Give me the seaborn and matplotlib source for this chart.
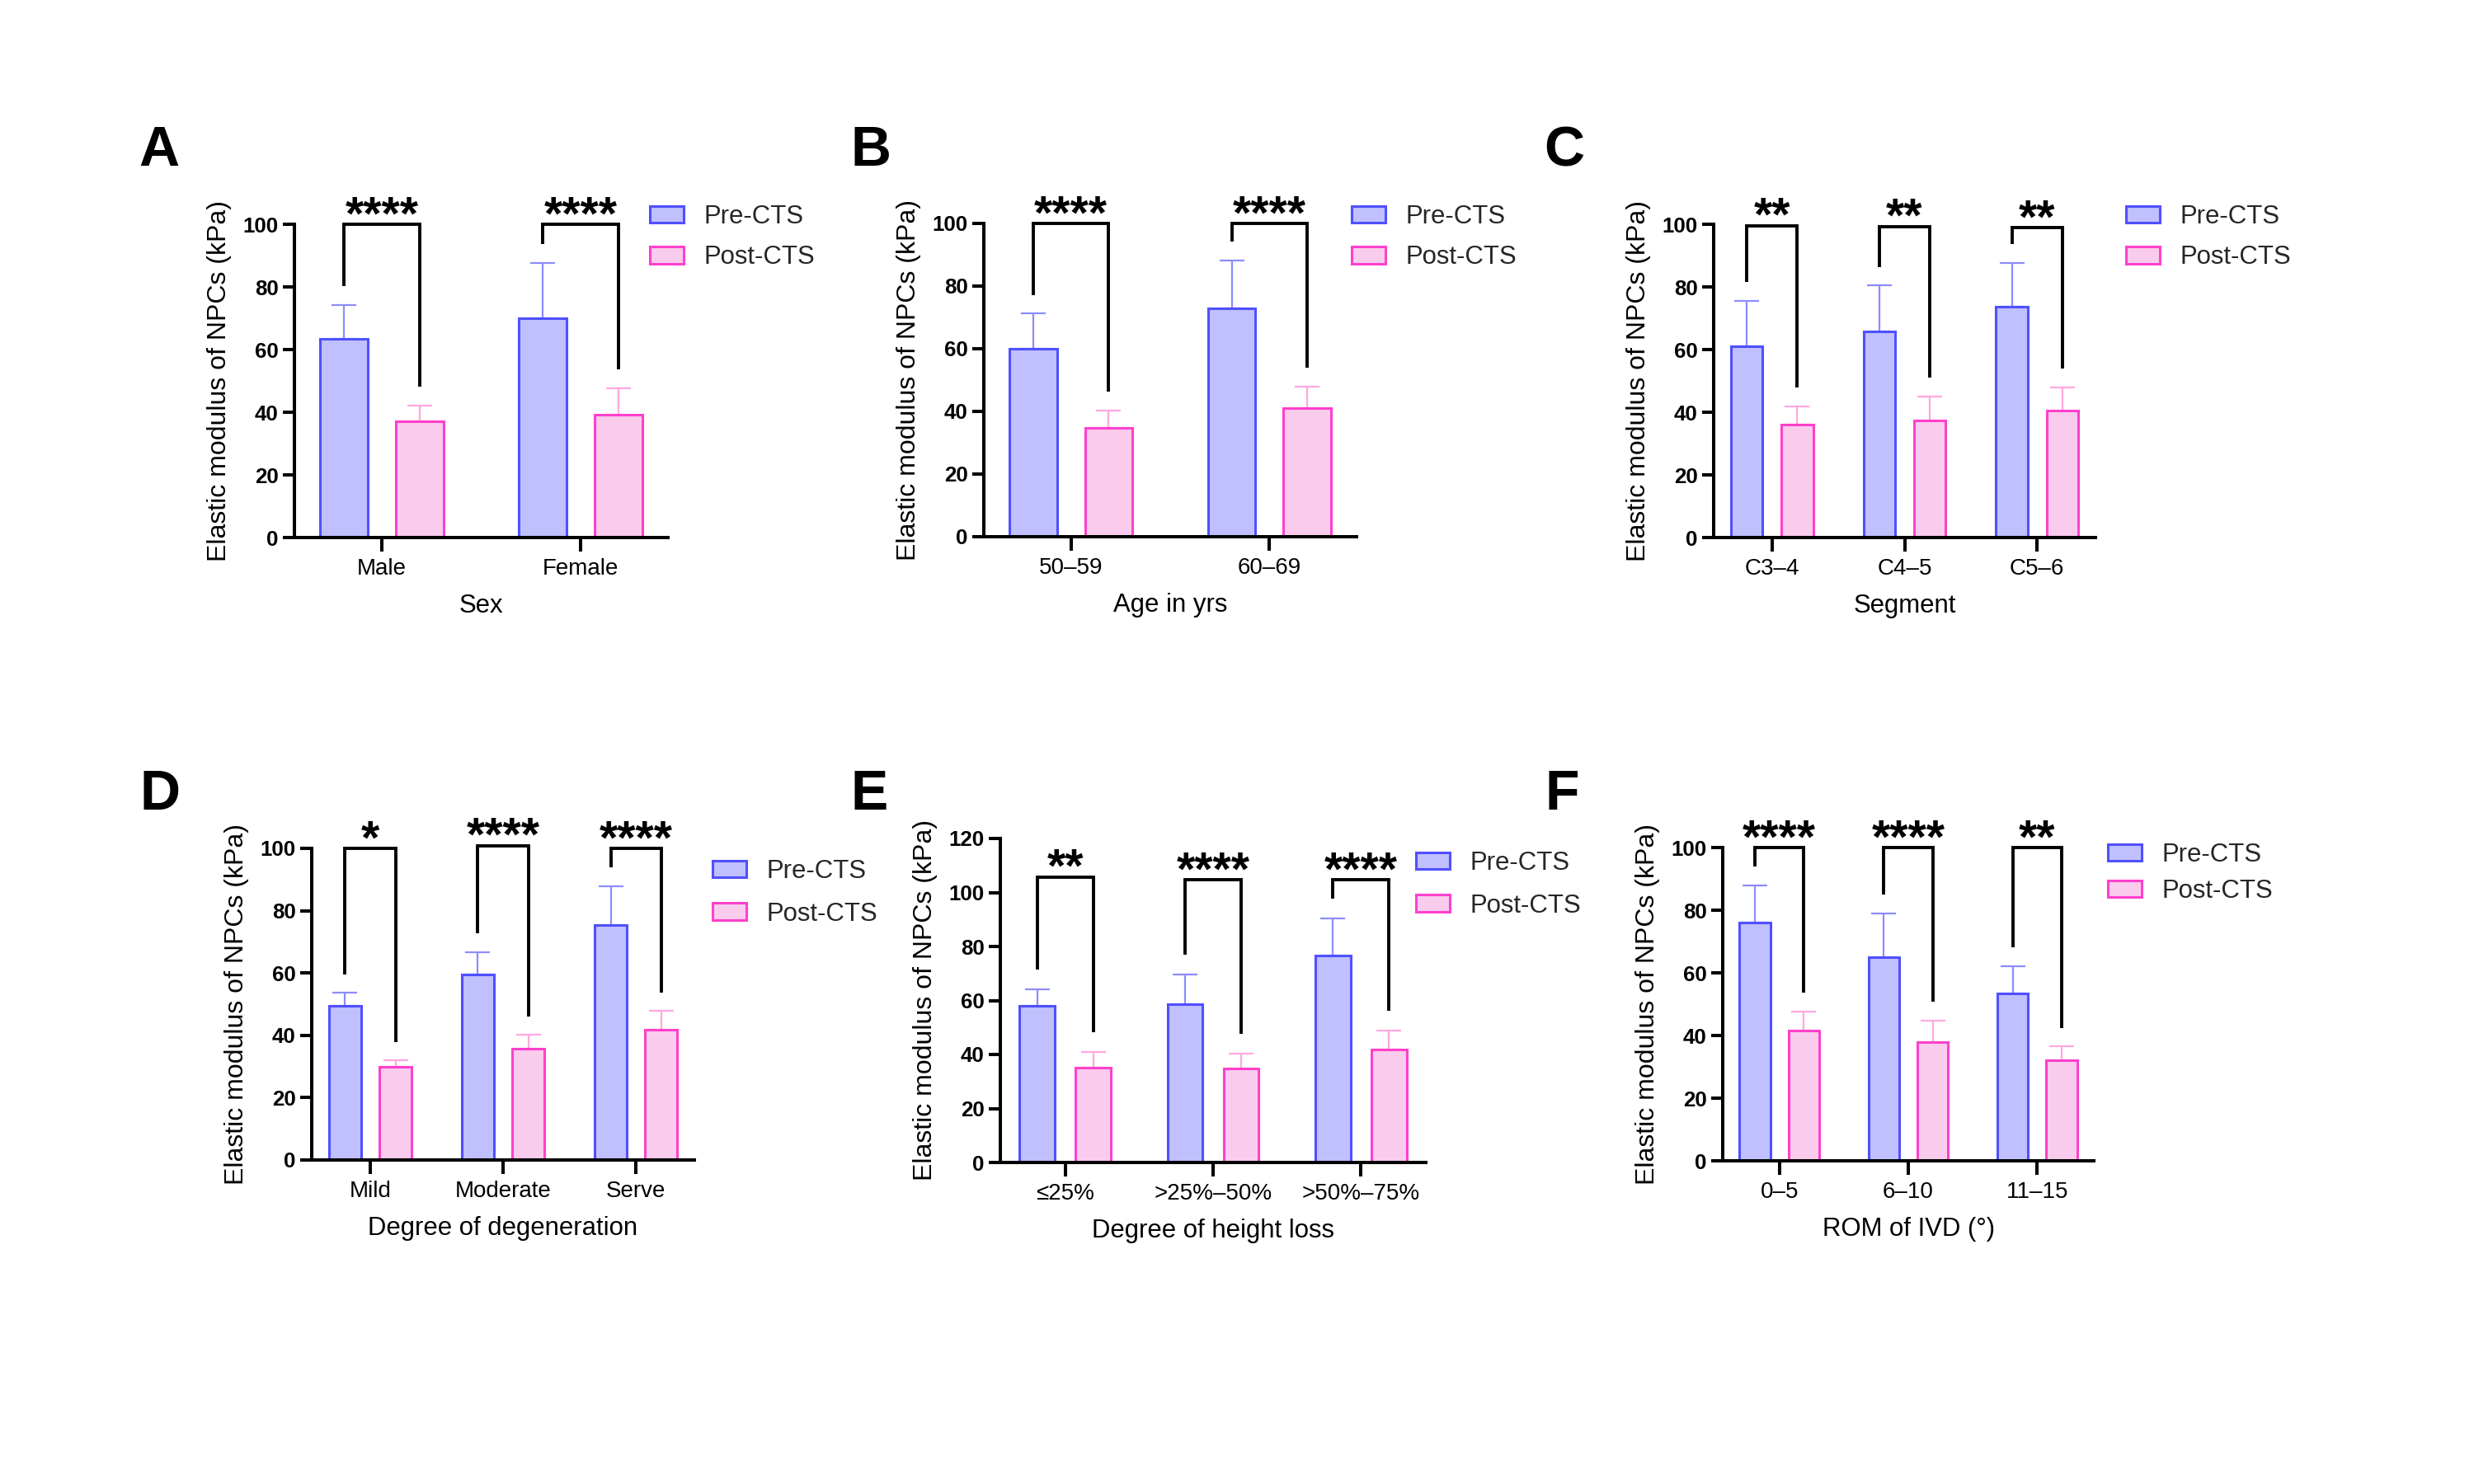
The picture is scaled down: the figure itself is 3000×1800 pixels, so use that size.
import numpy as np
import pandas as pd
import matplotlib
matplotlib.use('Agg')
import matplotlib.pyplot as plt
import seaborn as sns
from matplotlib.patches import Patch

sns.set_theme(style='white')
plt.rcParams['font.family'] = ['Liberation Sans', 'DejaVu Sans']

# ---------------- data ----------------
groups = ['Pre-CTS', 'Post-CTS']

sex_cats = ['Male', 'Female']
sex_pre_mean = [63.4, 69.9]
sex_pre_sd = [10.9, 17.8]
sex_post_mean = [37.0, 39.1]
sex_post_sd = [5.2, 8.5]
sex_stars = ['****', '****']

age_cats = ['50–59', '60–69']
age_pre_mean = [60.0, 73.0]
age_pre_sd = [11.2, 15.1]
age_post_mean = [34.8, 41.0]
age_post_sd = [5.5, 6.9]
age_stars = ['****', '****']

seg_cats = ['C3–4', 'C4–5', 'C5–6']
seg_pre_mean = [61.0, 65.7, 73.7]
seg_pre_sd = [14.6, 14.7, 14.0]
seg_post_mean = [36.1, 37.4, 40.6]
seg_post_sd = [5.7, 7.7, 7.3]
seg_stars = ['**', '**', '**']

deg_cats = ['Mild', 'Moderate', 'Serve']
deg_pre_mean = [49.6, 59.5, 75.5]
deg_pre_sd = [4.0, 7.2, 12.4]
deg_post_mean = [30.0, 35.6, 41.7]
deg_post_sd = [1.9, 4.5, 6.1]
deg_stars = ['*', '****', '****']

hl_cats = ['≤25%', '>25%–50%', '>50%–75%']
hl_pre_mean = [58.0, 58.7, 76.7]
hl_pre_sd = [6.1, 11.0, 13.7]
hl_post_mean = [35.1, 34.7, 41.9]
hl_post_sd = [5.8, 5.6, 7.1]
hl_stars = ['**', '****', '****']

rom_cats = ['0–5', '6–10', '11–15']
rom_pre_mean = [76.1, 65.1, 53.4]
rom_pre_sd = [11.9, 13.8, 8.7]
rom_post_mean = [41.6, 37.9, 32.0]
rom_post_sd = [6.1, 6.8, 4.5]
rom_stars = ['****', '****', '**']

# bracket top heights (data units)
sex_tops = [100, 100]
age_tops = [100, 100]
seg_tops = [99.6, 99.3, 98.9]
deg_tops = [100, 100.9, 100]
hl_tops = [105.8, 104.6, 104.6]
rom_tops = [100, 100, 100]

# ---------------- style ----------------
fill_colors = ['#C0C0FF', '#F9CCEE']
edge_colors = ['#5050FF', '#FF40CC']
err_colors = ['#8C8CFF', '#FFA8DE']
EDGE_LW = 1.1
SPINE_LW = 1.45

W, H = 3000, 1800
fig = plt.figure(figsize=(15, 9), dpi=200)
fig.patch.set_facecolor('white')


def rect(x0, x1, yt, yb):
    return [x0 / W, 1 - yb / H, (x1 - x0) / W, (yb - yt) / H]


def draw(spec):
    ax = fig.add_axes(spec['rect'])
    cats = spec['cats']
    n = len(cats)
    df = pd.DataFrame({
        'cat': cats * 2,
        'group': [groups[0]] * n + [groups[1]] * n,
        'value': list(spec['pre']) + list(spec['post']),
    })
    sns.barplot(data=df, x='cat', y='value', hue='group', order=cats,
                hue_order=groups, palette=fill_colors, saturation=1,
                width=0.76, gap=0.37, errorbar=None, linewidth=EDGE_LW,
                legend=False, ax=ax)
    centers = []
    for cont, ec, errc, means, sds in zip(ax.containers, edge_colors, err_colors,
                                          [spec['pre'], spec['post']],
                                          [spec['pre_sd'], spec['post_sd']]):
        xs = []
        for bar in cont:
            bar.set_edgecolor(ec)
            bar.set_linewidth(EDGE_LW)
            bar.set_zorder(2)
            xs.append(bar.get_x() + bar.get_width() / 2)
        centers.append(xs)
        ax.errorbar(xs, means, yerr=[np.zeros(n), sds], fmt='none', ecolor=errc,
                    elinewidth=0.8, capsize=5.4, capthick=0.8, zorder=1.5)

    ymax = spec['ymax']
    off = 0.06 * ymax
    for i in range(n):
        xl, xr = centers[0][i], centers[1][i]
        yl = spec['pre'][i] + spec['pre_sd'][i] + off
        yr = spec['post'][i] + spec['post_sd'][i] + off
        top = spec['tops'][i]
        ax.plot([xl, xl, xr, xr], [yl, top, top, yr], color='black', lw=1.4,
                clip_on=False, solid_joinstyle='miter', solid_capstyle='butt', zorder=3)
        ax.annotate(spec['stars'][i], xy=((xl + xr) / 2, top), xytext=(0, -2.2),
                    textcoords='offset points', ha='center', va='baseline',
                    fontsize=20.5, fontweight='bold', color='black',
                    annotation_clip=False)

    ax.set_xlim(-0.44, n - 0.56)
    ax.set_ylim(0, ymax)
    ax.set_yticks(list(range(0, ymax + 1, 20)))
    ax.set_facecolor('white')
    ax.grid(False)
    for s in ['top', 'right']:
        ax.spines[s].set_visible(False)
    for s in ['left', 'bottom']:
        ax.spines[s].set_linewidth(SPINE_LW)
        ax.spines[s].set_color('black')
    ax.tick_params(axis='y', direction='out', length=5, width=SPINE_LW,
                   labelsize=9.3, pad=2, color='black', labelcolor='black', left=True)
    ax.tick_params(axis='x', direction='out', length=6, width=SPINE_LW,
                   labelsize=10, pad=3, color='black', labelcolor='black', bottom=True)
    for lbl in ax.get_yticklabels():
        lbl.set_fontweight('bold')
    ax.set_xlabel(spec['xlabel'], fontsize=11.2, labelpad=6, color='black')
    ax.set_ylabel('Elastic modulus of NPCs (kPa)', fontsize=11.5, labelpad=5, color='black')

    handles = [Patch(facecolor=fill_colors[k], edgecolor=edge_colors[k],
                     linewidth=EDGE_LW, label=groups[k]) for k in range(2)]
    lx, ly = spec['legend']
    ax.legend(handles=handles, loc='upper left',
              bbox_to_anchor=(lx / W, 1 - ly / H), bbox_transform=fig.transFigure,
              frameon=False, fontsize=11.2, handlelength=1.31, handleheight=0.65,
              handletextpad=0.78, labelspacing=spec['ls'], borderpad=0,
              borderaxespad=0)
    px, py = spec['lpos']
    fig.text(px / W, 1 - py / H, spec['letter'], ha='left', va='baseline',
             fontsize=24.5, fontweight='bold', color='black')


specs = [
    dict(letter='A', lpos=(168, 201), rect=rect(357, 810, 272, 652), cats=sex_cats,
         pre=sex_pre_mean, pre_sd=sex_pre_sd, post=sex_post_mean, post_sd=sex_post_sd,
         stars=sex_stars, tops=sex_tops, xlabel='Sex', ymax=100, legend=(788, 248), ls=0.62),
    dict(letter='B', lpos=(1032, 201), rect=rect(1193, 1645, 271, 651), cats=age_cats,
         pre=age_pre_mean, pre_sd=age_pre_sd, post=age_post_mean, post_sd=age_post_sd,
         stars=age_stars, tops=age_tops, xlabel='Age in yrs', ymax=100, legend=(1639, 248), ls=0.62),
    dict(letter='C', lpos=(1872, 201), rect=rect(2078, 2541, 272, 652), cats=seg_cats,
         pre=seg_pre_mean, pre_sd=seg_pre_sd, post=seg_post_mean, post_sd=seg_post_sd,
         stars=seg_stars, tops=seg_tops, xlabel='Segment', ymax=100, legend=(2578, 248), ls=0.62),
    dict(letter='D', lpos=(170, 982), rect=rect(378, 842, 1029, 1407), cats=deg_cats,
         pre=deg_pre_mean, pre_sd=deg_pre_sd, post=deg_post_mean, post_sd=deg_post_sd,
         stars=deg_stars, tops=deg_tops, xlabel='Degree of degeneration', ymax=100,
         legend=(864, 1042), ls=0.7),
    dict(letter='E', lpos=(1032, 982), rect=rect(1213, 1729, 1017, 1410), cats=hl_cats,
         pre=hl_pre_mean, pre_sd=hl_pre_sd, post=hl_post_mean, post_sd=hl_post_sd,
         stars=hl_stars, tops=hl_tops, xlabel='Degree of height loss', ymax=120,
         legend=(1717, 1032), ls=0.7),
    dict(letter='F', lpos=(1874, 982), rect=rect(2089, 2539, 1028, 1408), cats=rom_cats,
         pre=rom_pre_mean, pre_sd=rom_pre_sd, post=rom_post_mean, post_sd=rom_post_sd,
         stars=rom_stars, tops=rom_tops, xlabel='ROM of IVD (°)', ymax=100,
         legend=(2556, 1022), ls=0.45),
]

for sp in specs:
    draw(sp)

fig.savefig('out.png', dpi=200, facecolor='white')
